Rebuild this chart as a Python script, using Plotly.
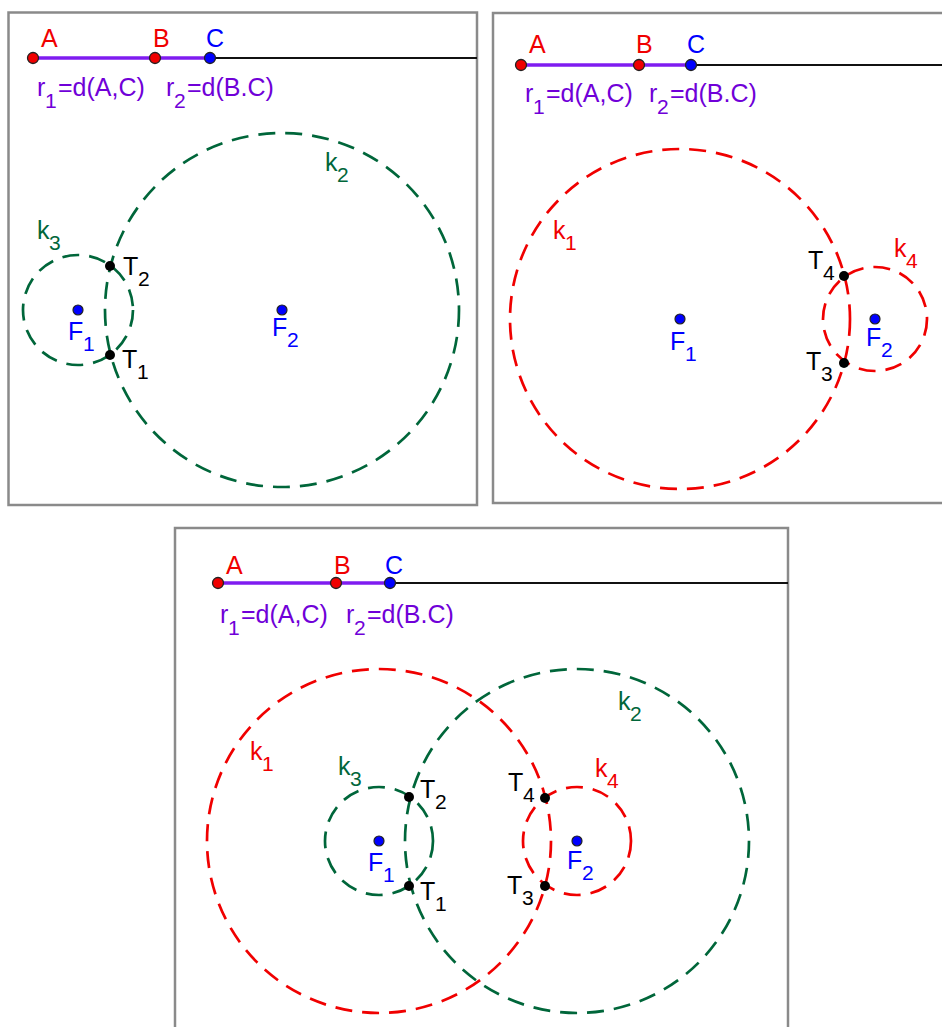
import plotly.graph_objects as go

# --- data (pixel coords, y grows downward) ---
# top line of each panel: points A, B, C and where the line ends
A_x = [33, 521, 218]
B_x = [155, 639, 336]
C_x = [210, 691, 390]
line_y = [58, 65, 583]
line_end = [477, 942, 788]

# foci
F1_x = [78, 680, 379]
F1_y = [310, 319, 841]
F2_x = [282, 875, 577]
F2_y = [310, 319, 841]

# intersection points T per panel
T_names = [["T1", "T2"], ["T3", "T4"], ["T1", "T2", "T3", "T4"]]
T_x = [[110, 110], [844, 844], [409, 409, 545, 545]]
T_y = [[355, 266], [363, 276], [886, 797, 886, 798]]

# circles drawn in each panel: (name, centre, radius)
circles = [
    [("k2", "F2", "r1"), ("k3", "F1", "r2")],
    [("k1", "F1", "r1"), ("k4", "F2", "r2")],
    [("k1", "F1", "r1"), ("k2", "F2", "r1"), ("k3", "F1", "r2"), ("k4", "F2", "r2")],
]

RED = "#f00000"
BLUE = "#0000ff"
GREEN = "#00663a"
PURPLE = "#7f1cf0"
PURPLE_TXT = "#7000d8"
GRAY = "#8a8a8a"
FONT = "Liberation Sans, Arial, sans-serif"
circle_color = {"k1": RED, "k4": RED, "k2": GREEN, "k3": GREEN}

# label positions: (left x of the letter, centre y of the capital)
lab_ABC = [[(40, 38), (152, 38), (205, 38)],
           [(528, 44), (635, 44), (686, 44)],
           [(225, 565), (333, 565), (384, 565)]]
lab_r = [[(37, 87), (166, 87)], [(525, 93), (649, 93)], [(220, 614), (346, 614)]]
lab_F = [[(68, 331), (272, 327)], [(670, 341), (866, 337)], [(368, 862), (567, 860)]]
lab_T = [[(122, 359), (123, 266)], [(806, 361), (808, 260)],
         [(420, 891), (420, 789), (507, 885), (508, 782)]]
lab_k = [{"k2": (325, 162), "k3": (37, 230)},
         {"k1": (553, 230), "k4": (894, 248)},
         {"k1": (250, 751), "k2": (618, 701), "k3": (338, 766), "k4": (595, 768)}]

panels = [(8.5, 12.5, 477, 505), (493, 13, 960, 503), (175, 528, 788, 1040)]

SIZE = 25
SUB = 21
ADV = {"k": 12, "T": 15, "F": 15, "r": 8}

fig = go.Figure()
shapes = []
annotations = []


def label(x, y, text, color, size=SIZE):
    annotations.append(dict(x=x, y=y, text=text, showarrow=False, borderpad=0,
                            xanchor="left", yanchor="middle", xref="x", yref="y",
                            font=dict(family=FONT, size=size, color=color)))


def sublabel(x, y, name, color):
    # letter plus a dropped index, the way the original draws it
    main, idx = name[0], name[1:]
    label(x - 1, y, main, color)
    label(x - 1 + ADV[main], y + 12, idx, color, size=SUB)


for p in range(3):
    x0, y0, x1, y1 = panels[p]
    shapes.append(dict(type="rect", x0=x0, y0=y0, x1=x1, y1=y1, xref="x", yref="y",
                       line=dict(color=GRAY, width=2.5), layer="below"))

    # line from C to the edge, then the purple segment A-C
    fig.add_trace(go.Scatter(x=[C_x[p], line_end[p]], y=[line_y[p], line_y[p]], mode="lines",
                             line=dict(color="#111111", width=1.8), hoverinfo="skip"))
    fig.add_trace(go.Scatter(x=[A_x[p], C_x[p]], y=[line_y[p], line_y[p]], mode="lines",
                             line=dict(color=PURPLE, width=3.5), hoverinfo="skip"))

    r = {"r1": C_x[p] - A_x[p], "r2": C_x[p] - B_x[p]}
    cen = {"F1": (F1_x[p], F1_y[p]), "F2": (F2_x[p], F2_y[p])}
    for name, c, rr in circles[p]:
        cx, cy = cen[c]
        R = r[rr]
        shapes.append(dict(type="circle", xref="x", yref="y", x0=cx - R, x1=cx + R,
                           y0=cy - R, y1=cy + R, layer="below",
                           line=dict(color=circle_color[name], width=2.7, dash="17px,10px")))
        lx, ly = lab_k[p][name]
        sublabel(lx, ly, name, circle_color[name])

    # points A, B, C
    fig.add_trace(go.Scatter(x=[A_x[p], B_x[p], C_x[p]], y=[line_y[p]] * 3, mode="markers",
                             marker=dict(size=11, color=[RED, RED, BLUE],
                                         line=dict(color="#222222", width=1.3)),
                             hoverinfo="skip"))
    for (lx, ly), t, col in zip(lab_ABC[p], ["A", "B", "C"], [RED, RED, BLUE]):
        label(lx, ly, t, col)

    for (lx, ly), idx, rest in zip(lab_r[p], ["1", "2"], ["=d(A,C)", "=d(B.C)"]):
        label(lx - 1, ly, "r", PURPLE_TXT)
        label(lx - 1 + ADV["r"], ly + 13, idx, PURPLE_TXT, size=SUB)
        label(lx + 20, ly, rest, PURPLE_TXT)

    # foci
    fig.add_trace(go.Scatter(x=[F1_x[p], F2_x[p]], y=[F1_y[p], F2_y[p]], mode="markers",
                             marker=dict(size=10, color=BLUE, line=dict(color="#222222", width=1.2)),
                             hoverinfo="skip"))
    sublabel(lab_F[p][0][0], lab_F[p][0][1], "F1", BLUE)
    sublabel(lab_F[p][1][0], lab_F[p][1][1], "F2", BLUE)

    # intersections
    fig.add_trace(go.Scatter(x=T_x[p], y=T_y[p], mode="markers",
                             marker=dict(size=10, color="black"), hoverinfo="skip"))
    for (lx, ly), t in zip(lab_T[p], T_names[p]):
        sublabel(lx, ly, t, "black")

fig.update_layout(
    width=942, height=1027, margin=dict(l=0, r=0, t=0, b=0),
    paper_bgcolor="white", plot_bgcolor="white", showlegend=False,
    shapes=shapes, annotations=annotations,
    xaxis=dict(range=[0, 942], visible=False, fixedrange=True),
    yaxis=dict(range=[1027, 0], visible=False, fixedrange=True),
)
# drop the default page margin so picture pixels line up with the axes
fig.write_html("out.html", config={"displayModeBar": False},
               post_script="document.body.style.margin='0';")
